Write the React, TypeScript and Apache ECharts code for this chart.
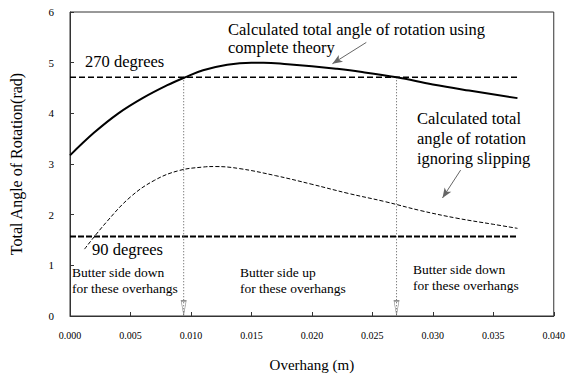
import React, { useEffect, useRef } from "react";
import * as echarts from "echarts";

const xTicks = ["0.000", "0.005", "0.010", "0.015", "0.020", "0.025", "0.030", "0.035", "0.040"];
const completeX = [0, 0.002, 0.004, 0.006, 0.008, 0.0095, 0.011, 0.013, 0.015, 0.016, 0.018, 0.02, 0.022, 0.024, 0.027, 0.03, 0.033, 0.037];
const completeY = [3.17, 3.62, 4.0, 4.3, 4.55, 4.71, 4.85, 4.96, 5.0, 5.0, 4.97, 4.93, 4.88, 4.82, 4.71, 4.57, 4.45, 4.3];
const slipX = [0.0012, 0.003, 0.005, 0.007, 0.009, 0.011, 0.012, 0.014, 0.017, 0.02, 0.023, 0.026, 0.029, 0.032, 0.035, 0.037];
const slipY = [1.32, 1.85, 2.35, 2.68, 2.87, 2.94, 2.95, 2.91, 2.77, 2.6, 2.42, 2.26, 2.08, 1.93, 1.81, 1.73];
const deg270 = 4.712;
const deg90 = 1.571;
const lineEndX = 0.037;
const crossings = [0.0094, 0.027];

const FONT = "Liberation Serif";

export default function App() {
  const ref = useRef<HTMLDivElement>(null);
  useEffect(() => {
    const chart = echarts.init(ref.current!, undefined, { renderer: "svg" });
    const toPairs = (xs: number[], ys: number[]) => xs.map((x, i) => [x, ys[i]]);
    const note = (s: string, left: number, top: number, size: number, lh: number) => ({
      text: s,
      left,
      top,
      padding: 0,
      textStyle: { fontFamily: FONT, fontSize: size, fontWeight: "normal", color: "#000", lineHeight: lh },
    });
    chart.setOption({
      animation: false,
      backgroundColor: "#fff",
      textStyle: { fontFamily: FONT },
      title: [
        note("Calculated total angle of rotation using\ncomplete theory", 228, 20, 16.5, 18),
        note("270 degrees", 85, 52, 16.5, 18),
        note("Calculated total\nangle of rotation\nignoring slipping", 417, 108, 16.5, 20),
        note("90 degrees", 92, 240, 16.5, 18),
        note("Butter side down\nfor these overhangs", 72, 265, 13.5, 15.5),
        note("Butter side up\nfor these overhangs", 240, 265, 13.5, 15.5),
        note("Butter side down\nfor these overhangs", 413, 262, 13.5, 15.5),
      ],
      grid: { left: 69, right: 13, top: 12, bottom: 65, show: true, borderColor: "#333", borderWidth: 1 },
      xAxis: {
        type: "value",
        min: 0,
        max: 0.04,
        interval: 0.005,
        name: "Overhang (m)",
        nameLocation: "middle",
        nameGap: 41,
        nameTextStyle: { fontFamily: FONT, fontSize: 15, color: "#000" },
        axisLine: { show: true, lineStyle: { color: "#333" } },
        axisTick: { show: true, inside: true, length: 4, lineStyle: { color: "#333" } },
        axisLabel: {
          fontFamily: FONT,
          fontSize: 10,
          color: "#000",
          margin: 14,
          formatter: (v: number) => xTicks[Math.round(v / 0.005)] ?? v.toFixed(3),
        },
        splitLine: { show: false },
      },
      yAxis: {
        type: "value",
        min: 0,
        max: 6,
        interval: 1,
        name: "Total Angle of Rotation(rad)",
        nameLocation: "middle",
        nameGap: 46,
        nameTextStyle: { fontFamily: FONT, fontSize: 16, color: "#000" },
        axisLine: { show: true, lineStyle: { color: "#333" } },
        axisTick: { show: true, inside: true, length: 4, lineStyle: { color: "#333" } },
        axisLabel: { fontFamily: FONT, fontSize: 11, color: "#000", margin: 16 },
        splitLine: { show: false },
      },
      series: [
        {
          type: "line",
          data: toPairs(completeX, completeY),
          smooth: 0.4,
          symbol: "none",
          lineStyle: { color: "#000", width: 2 },
          z: 5,
        },
        {
          type: "line",
          data: toPairs(slipX, slipY),
          smooth: 0.4,
          symbol: "none",
          lineStyle: { color: "#000", width: 1, type: [4, 2] },
          z: 5,
        },
        {
          type: "line",
          data: [[0, deg270], [lineEndX, deg270]],
          symbol: "none",
          lineStyle: { color: "#000", width: 1.6, type: [6, 3] },
        },
        {
          type: "line",
          data: [[0, deg90], [lineEndX, deg90]],
          symbol: "none",
          lineStyle: { color: "#000", width: 2, type: [6, 2] },
        },
        ...crossings.map((c) => ({
          type: "line",
          data: [[c, deg270], [c, 0]],
          symbol: "none",
          lineStyle: { color: "#555", width: 1, type: [1, 2] },
        })),
        {
          type: "scatter",
          data: crossings.map((c) => [c, 0.16]),
          symbol: "triangle",
          symbolRotate: 180,
          symbolSize: [5, 14],
          itemStyle: { color: "#fff", borderColor: "#777", borderWidth: 1 },
          silent: true,
          markLine: {
            silent: true,
            symbol: ["none", "arrow"],
            symbolSize: [6, 10],
            label: { show: false },
            lineStyle: { color: "#666", width: 1, type: "solid" },
            data: [
              [{ coord: [0.0245, 5.4] }, { coord: [0.0217, 4.98] }],
              [{ coord: [0.0323, 2.88] }, { coord: [0.0308, 2.33] }],
            ],
          },
        },
      ],
    });
    return () => chart.dispose();
  }, []);
  return <div ref={ref} style={{ width: 568, height: 381, position: "absolute", left: 0, top: 0 }} />;
}
